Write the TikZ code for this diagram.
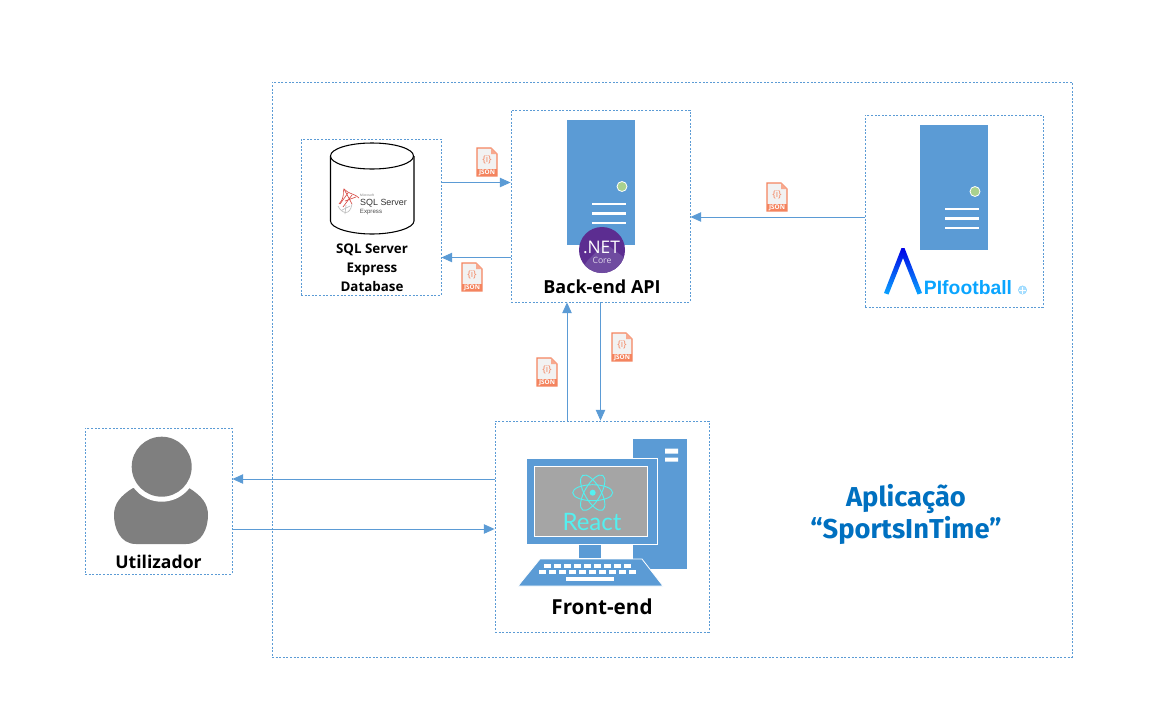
\documentclass[tikz,border=0pt]{standalone}
\usepackage{fontspec}
\setmainfont{Open Sans}
\newfontfamily\titlefont{Fira Sans}
\newfontfamily\reactfont{Lato}
\newfontfamily\logofont{Liberation Sans}
\usetikzlibrary{positioning}
\usetikzlibrary{arrows.meta}

\definecolor{flowblue}{HTML}{5B9BD5}
\definecolor{ledgreen}{HTML}{A9D18E}
\definecolor{jsonorange}{HTML}{F4845F}
\definecolor{jsonpaper}{HTML}{F2F2F2}
\definecolor{titleblue}{HTML}{0070C0}
\definecolor{persongray}{HTML}{7F7F7F}
\definecolor{screengray}{HTML}{A5A5A5}
\definecolor{reactcyan}{HTML}{53F0F0}
\definecolor{netpurple}{HTML}{5C2D91}
\definecolor{netlight}{HTML}{6F4BA0}
\definecolor{sqlred}{HTML}{D9504A}
\definecolor{apicyan}{HTML}{0AA5FF}

\newcommand{\px}{0.75pt}

\tikzset{
	box/.style={draw=flowblue, line width=0.6pt, dash pattern=on 1.5pt off 1.2pt, inner sep=0pt},
	flow/.style={draw=flowblue, line width=0.7pt, -{Triangle[length=8pt,width=7pt]}},
	nametext/.style={font=\bfseries\fontsize{13.5}{16}\selectfont, inner sep=0pt},
	dbtext/.style={font=\bfseries\fontsize{10}{14.2}\selectfont, align=center, inner sep=0pt},
	titletext/.style={font=\titlefont\bfseries\fontsize{20.5}{24}\selectfont, text=titleblue, align=center, inner sep=0pt},
	jsonfile/.pic={
		\fill[jsonpaper, draw=jsonorange, line width=0.8pt] (-10,-14) -- (4,-14) -- (10,-8) -- (10,14) -- (-10,14) -- cycle;
		\fill[jsonorange!70] (4,-14) -- (10,-8) -- (4,-8) -- cycle;
		\fill[jsonorange] (-10,7) rectangle (10,14);
		\node[text=jsonorange, inner sep=0pt, font=\fontsize{7}{7}\selectfont] (-brace) at (0,-2) {\{i\}};
		\node[text=white, inner sep=0pt, font=\bfseries\fontsize{4.8}{4.8}\selectfont] (-tag) at (0,10.5) {JSON};
	},
	servertower/.pic={
		\fill[flowblue] (0,0) rectangle (68,125);
		\fill[ledgreen, draw=white, line width=0.6pt] (55,66.5) circle (5);
		\foreach \yline/\wline in {84/2.2pt, 93.5/2.8pt, 103/2.2pt}
			\draw[white, line width=\wline] (25,\yline) -- (59,\yline);
	}
}

\begin{document}
\begin{tikzpicture}[x=\px, y=-\px]
	\useasboundingbox (0,0) rectangle (1163,725);

	%Application frame
	\node[box, minimum width=800*\px, minimum height=575*\px] (app) at (672,369.5){};

	%Boxes
	\node[box, minimum width=140*\px, minimum height=156*\px] (sql) at (371,217){};
	\node[box, minimum width=179*\px, minimum height=192*\px] (backend) at (600.5,206){};
	\node[box, minimum width=178*\px, minimum height=192*\px] (apifootball) at (954,211){};
	\node[box, minimum width=214*\px, minimum height=211*\px] (frontend) at (602,526.5){};
	\node[box, minimum width=147*\px, minimum height=146*\px] (user) at (158.5,501){};

	%Database
	\draw[fill=white, line width=0.8pt] (330.5,156) -- (330.5,221) .. controls (330.5,228) and (350,234) .. (372,234) .. controls (394,234) and (414,228) .. (414,221) -- (414,156);
	\draw[fill=white, line width=0.8pt] (372,156) ellipse (41.5 and 13);
	\draw[sqlred, line width=0.5pt] (339,204) .. controls (346,196) and (342,192) .. (344,189) .. controls (348,194) and (356,194) .. (359,198);
	\draw[sqlred, line width=0.5pt] (344,189) -- (352,204) (348,193) -- (340,204) (352,195) -- (343,207) (356,197) -- (345,201);
	\draw[gray!50, line width=0.5pt] (338,206) .. controls (342,214) and (350,216) .. (352,204) (342,210) -- (350,206) (345,214) -- (346,205);
	\node[inner sep=0pt, font=\logofont\fontsize{2.5}{3}\selectfont, text=gray] (sqlms) at (367,195.5) {Microsoft};
	\node[inner sep=0pt, font=\logofont\fontsize{6.7}{8}\selectfont, text=black!80] (sqlname) at (383.5,203) {SQL Server};
	\node[inner sep=0pt, font=\logofont\fontsize{4.6}{5}\selectfont, text=black!70] (sqled) at (371,212.5) {Express};
	\node[dbtext] (sqllabel) at (372,268) {SQL Server\\Express\\Database};

	%Back-end
	\pic at (567,120) {servertower};
	\fill[netpurple] (602,250) circle (23);
	\begin{scope}
		\clip (602,250) circle (23);
		\fill[netlight] (579,273) -- (588,260) -- (605,243) -- (630,262) -- (625,275) -- cycle;
	\end{scope}
	\node[inner sep=0pt, text=white, font=\fontsize{13}{14}\selectfont] (netname) at (601.5,247) {.NET};
	\node[inner sep=0pt, text=white!80!netpurple, font=\fontsize{6.5}{7}\selectfont] (netcore) at (602,260) {Core};
	\node[nametext] (backendlabel) at (602,286.5) {Back-end API};

	%API football
	\pic at (920,125) {servertower};
	\shade[top color=blue!90!black, bottom color=apicyan] (884,293) -- (901.5,248) -- (904.5,248) -- (922,293) -- (917.5,294.5) -- (903,258) -- (888.5,294.5) -- cycle;
	\node[inner sep=0pt, text=apicyan, font=\logofont\bfseries\fontsize{14.5}{16}\selectfont] (apilogo) at (968,288) {PIfootball};
	\fill[apicyan!35, draw=apicyan!50, line width=0.3pt] (1022.5,290) circle (4.2);
	\draw[white, line width=0.3pt] (1019,290) -- (1026,290) (1022.5,286.5) -- (1022.5,293.5);

	%Front-end
	\fill[flowblue] (633,439) rectangle (687,569);
	\fill[white] (665,448.5) rectangle (678,453.5) (665,457.5) rectangle (678,461.5);
	\fill[flowblue, draw=white, line width=0.6pt] (526,458) rectangle (657,544);
	\fill[screengray, draw=white, line width=0.6pt] (534.5,466.5) rectangle (647.5,536.5);
	\fill[flowblue] (579,545) rectangle (601,558);
	\fill[flowblue, draw=white, line width=0.6pt] (518,586) -- (540,559) -- (642,559) -- (663,586) -- cycle;
	\foreach \k in {0,...,8}
		\fill[white] (544+\k*10,564) rectangle ++(7,4);
	\foreach \k in {0,...,9}
		\fill[white] (538.5+\k*10,569.5) rectangle ++(7.5,4);
	\fill[white] (566,577) rectangle (614,581);
	\fill[reactcyan] (592.7,492.7) circle (3);
	\foreach \ang in {0,60,120}
		\draw[reactcyan, line width=0.7pt, rotate around={\ang:(592.7,492.7)}] (592.7,492.7) ellipse (20 and 8);
	\node[inner sep=0pt, text=reactcyan, font=\reactfont\fontsize{18}{19}\selectfont] (reactname) at (592,522) {React};
	\node[nametext, font=\bfseries\fontsize{15.5}{18}\selectfont] (frontendlabel) at (602,606.5) {Front-end};

	%User
	\fill[persongray] (133,488) .. controls (120,496) and (114,504) .. (114,515) .. controls (114,528) and (120,544) .. (136,544) -- (186,544) .. controls (202,544) and (208,528) .. (208,515) .. controls (208,504) and (202,496) .. (189,488) -- cycle;
	\fill[white] (161.7,466.7) circle (35);
	\fill[persongray] (161.7,466.7) circle (30);
	\node[nametext, font=\bfseries\fontsize{13.2}{16}\selectfont] (userlabel) at (158.5,561.5) {Utilizador};

	%Title
	\node[titletext] (title) at (906,514) {Aplicação\\“SportsInTime”};

	%Connectors
	\draw[flow] ([yshift=34.5*\px]sql.east) -- ([yshift=23.5*\px]backend.west);
	\draw[flow] ([yshift=-51.5*\px]backend.west) -- ([yshift=-40.5*\px]sql.east);
	\draw[flow] ([yshift=-6*\px]apifootball.west) -- ([yshift=-11*\px]backend.east);
	\draw[flow] ([xshift=-35*\px]frontend.north) -- ([xshift=-33.5*\px]backend.south);
	\draw[flow] (backend.south) -- ([xshift=-1.5*\px]frontend.north);
	\draw[flow] ([yshift=47.5*\px]frontend.west) -- ([yshift=22*\px]user.east);
	\draw[flow] ([yshift=-28*\px]user.east) -- ([yshift=-2.5*\px]frontend.west);

	%JSON payloads
	\pic (jsonup) at (487,162) {jsonfile};
	\pic (jsondown) at (472,277) {jsonfile};
	\pic (jsonapi) at (777,197) {jsonfile};
	\pic (jsonfront) at (622,347) {jsonfile};
	\pic (jsonback) at (547,372) {jsonfile};
\end{tikzpicture}
\end{document}
